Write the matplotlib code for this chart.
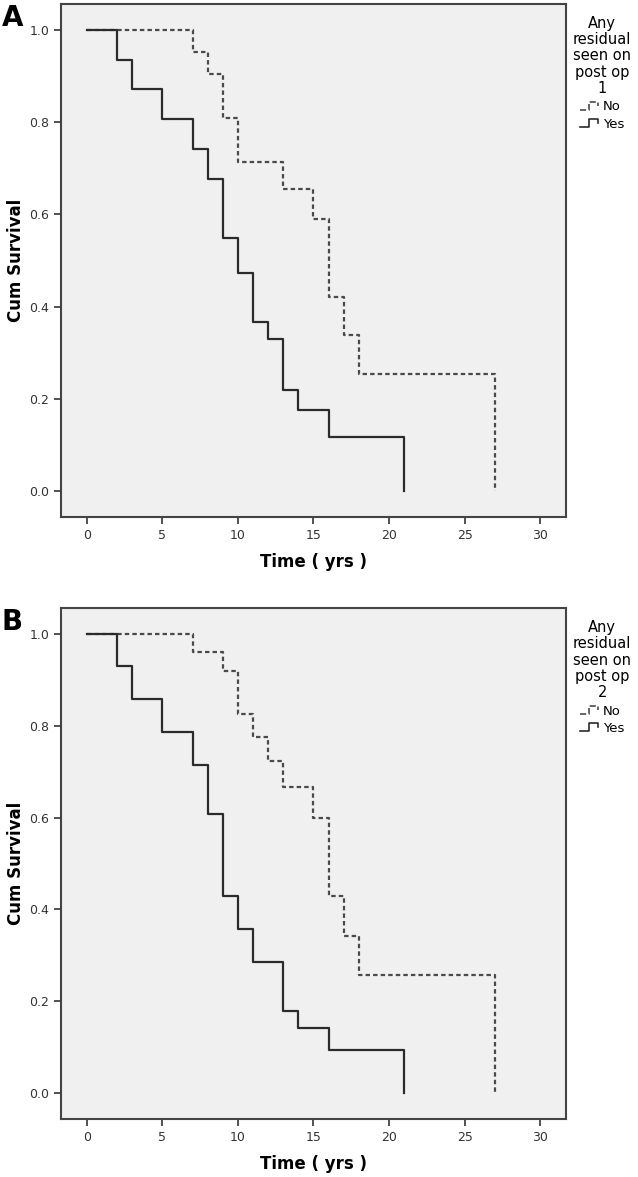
# Kaplan-Meier curves, residual on post op 1 and 2
import matplotlib.pyplot as plt
from matplotlib.legend_handler import HandlerBase
from matplotlib.lines import Line2D

# Panel A
times_a_yes = [0, 2, 3, 5, 7, 8, 9, 10, 11, 12, 13, 14, 16, 21]
surv_a_yes = [1.0, 0.935, 0.871, 0.806, 0.742, 0.677, 0.548, 0.474, 0.366, 0.329, 0.220, 0.175, 0.117, 0.0]
times_a_no = [0, 7, 8, 9, 10, 13, 15, 16, 17, 18, 27]
surv_a_no = [1.0, 0.952, 0.905, 0.809, 0.714, 0.656, 0.589, 0.420, 0.338, 0.254, 0.0]

# Panel B
times_b_yes = [0, 2, 3, 5, 7, 8, 9, 10, 11, 13, 14, 16, 21]
surv_b_yes = [1.0, 0.929, 0.857, 0.786, 0.714, 0.607, 0.429, 0.357, 0.286, 0.178, 0.143, 0.095, 0.0]
times_b_no = [0, 7, 9, 10, 11, 12, 13, 15, 16, 17, 18, 27]
surv_b_no = [1.0, 0.960, 0.918, 0.825, 0.776, 0.723, 0.667, 0.600, 0.429, 0.343, 0.257, 0.0]

x_ticks = [0, 5, 10, 15, 20, 25, 30]
y_ticks = [0.0, 0.2, 0.4, 0.6, 0.8, 1.0]
group_labels = ["No", "Yes"]


class StepHandler(HandlerBase):
    # little step glyph like the SPSS legend
    def create_artists(self, legend, orig_handle, xdescent, ydescent,
                       width, height, fontsize, trans):
        xs = [0, 0.45, 0.45, 0.9, 0.9]
        ys = [0.2, 0.2, 0.8, 0.8, 0.5]
        line = Line2D([x * width - xdescent for x in xs],
                      [y * height - ydescent for y in ys],
                      color=orig_handle.get_color(),
                      linestyle=orig_handle.get_linestyle(),
                      linewidth=1.2)
        line.set_transform(trans)
        return [line]


def draw_panel(ax, t_no, s_no, t_yes, s_yes):
    ax.set_facecolor("#f0f0f0")
    no_line, = ax.step(t_no, s_no, where="post", color="#4a4a4a",
                       linestyle=(0, (2.0, 1.4)), linewidth=1.6)
    yes_line, = ax.step(t_yes, s_yes, where="post", color="#2b2b2b",
                        linewidth=1.6)
    ax.set_xlim(-1.7, 31.7)
    ax.set_ylim(-0.056, 1.056)
    ax.set_xticks(x_ticks)
    ax.set_yticks(y_ticks)
    ax.set_yticklabels([f"{v:.1f}" for v in y_ticks])
    ax.tick_params(direction="out", length=5, width=1.2, color="#333333",
                   labelsize=9, labelcolor="#333333", top=False, right=False)
    for sp in ax.spines.values():
        sp.set_color("#444444")
        sp.set_linewidth(1.5)
    ax.set_xlabel("Time ( yrs )", fontsize=12, fontweight="bold", labelpad=8)
    ax.set_ylabel("Cum Survival", fontsize=12, fontweight="bold", labelpad=3)
    return no_line, yes_line


fig = plt.figure(figsize=(6.38, 11.77), dpi=100)

ax_a = fig.add_axes([0.0956, 0.5607, 0.7915, 0.4359])
ax_b = fig.add_axes([0.0956, 0.0493, 0.7915, 0.4341])

panels = [(ax_a, times_a_no, surv_a_no, times_a_yes, surv_a_yes, "1", "A", 0.9966),
          (ax_b, times_b_no, surv_b_no, times_b_yes, surv_b_yes, "2", "B", 0.4834)]

for ax, t_no, s_no, t_yes, s_yes, op, letter, top in panels:
    no_line, yes_line = draw_panel(ax, t_no, s_no, t_yes, s_yes)
    leg = fig.legend([no_line, yes_line], group_labels,
                     title="Any\nresidual\nseen on\npost op\n" + op,
                     loc="upper center", bbox_to_anchor=(0.944, top - 0.002),
                     frameon=False, fontsize=9.5, title_fontsize=10.5,
                     handlelength=1.5, handleheight=1.1, handletextpad=0.2,
                     labelspacing=0.25, borderpad=0.2,
                     handler_map={Line2D: StepHandler()})
    leg.get_title().set_multialignment("center")
    leg.get_title().set_linespacing(1.12)
    fig.text(0.003, top - 0.012, letter, fontsize=20, fontweight="bold",
             va="center", ha="left")

plt.savefig("out.png", dpi=100)
